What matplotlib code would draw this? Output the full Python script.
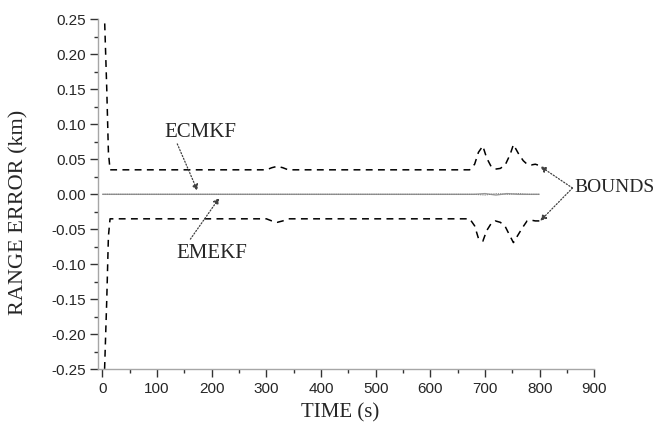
import matplotlib
matplotlib.use("Agg")
import matplotlib.pyplot as plt
from matplotlib.ticker import MultipleLocator, FormatStrFormatter

# ---- data ----
time_bound = [0, 4, 8, 11, 14, 300, 310, 320, 330, 340, 672, 681, 688, 696, 703, 711, 719, 728, 737, 746, 752, 762, 770, 777, 785, 792, 800]
upper_bound = [0.40, 0.25, 0.15, 0.06, 0.035, 0.035, 0.038, 0.040, 0.038, 0.035, 0.035, 0.043, 0.060, 0.069, 0.052, 0.040, 0.036, 0.037, 0.042, 0.057, 0.071, 0.057, 0.048, 0.043, 0.042, 0.043, 0.041]
lower_bound = [-0.40, -0.25, -0.15, -0.06, -0.035, -0.035, -0.038, -0.040, -0.038, -0.035, -0.035, -0.045, -0.063, -0.067, -0.052, -0.042, -0.038, -0.040, -0.046, -0.060, -0.069, -0.056, -0.046, -0.038, -0.037, -0.038, -0.038]

time_err = [0, 100, 200, 300, 400, 500, 600, 680, 700, 720, 740, 760, 780, 800]
ecmkf_err = [0.0, 0.0, 0.0, 0.0, 0.0, 0.0, 0.0, 0.0, 0.001, -0.001, 0.001, 0.0, 0.0, 0.0]
emekf_err = [0.0, 0.0, 0.0, 0.0, 0.0, 0.0, 0.0, 0.0, -0.001, 0.001, 0.0, 0.001, 0.0, 0.0]

x_ticks = [0, 100, 200, 300, 400, 500, 600, 700, 800, 900]
y_ticks = [-0.25, -0.20, -0.15, -0.10, -0.05, 0.00, 0.05, 0.10, 0.15, 0.20, 0.25]

serif = ["Liberation Serif", "DejaVu Serif"]
sans = ["Liberation Sans", "DejaVu Sans"]

fig = plt.figure(figsize=(6.57, 4.29), dpi=100)
ax = fig.add_axes([0.1492, 0.1391, 0.7554, 0.8159])

ax.plot(time_err, ecmkf_err, color="0.6", lw=1.0, solid_capstyle="butt")
ax.plot(time_err, emekf_err, color="0.5", lw=0.8, ls=(0, (1, 1)))
ax.plot(time_bound, upper_bound, color="black", lw=1.1, ls=(0, (4.5, 3.5)))
ax.plot(time_bound, lower_bound, color="black", lw=1.1, ls=(0, (4.5, 3.5)))

ax.set_xlim(-8, 900)
ax.set_ylim(-0.25, 0.25)
ax.set_xticks(x_ticks)
ax.set_yticks(y_ticks)
ax.xaxis.set_minor_locator(MultipleLocator(50))
ax.yaxis.set_minor_locator(MultipleLocator(0.025))
ax.yaxis.set_major_formatter(FormatStrFormatter("%.2f"))

for s in ["top", "right"]:
    ax.spines[s].set_visible(False)
for s in ["left", "bottom"]:
    ax.spines[s].set_color("0.65")
    ax.spines[s].set_linewidth(1.0)

ax.tick_params(which="major", direction="out", length=6, width=1.0, color="0.2", pad=3)
ax.tick_params(which="minor", direction="out", length=3, width=1.0, color="0.2")
for lab in ax.get_xticklabels() + ax.get_yticklabels():
    lab.set_family(sans)
    lab.set_fontsize(11)
    lab.set_color("0.15")

ax.set_xlabel("TIME (s)", family=serif, fontsize=15, color="0.15")
ax.set_ylabel("RANGE ERROR (km)", family=serif, fontsize=16, color="0.15")
ax.xaxis.set_label_coords(0.488, -0.096)
ax.yaxis.set_label_coords(-0.141, 0.449)

arrow = dict(arrowstyle="-|>", color="0.25", lw=0.9, ls=(0, (1, 1.5)), mutation_scale=9, shrinkA=0, shrinkB=0)

ax.annotate("", xy=(174, 0.005), xytext=(137, 0.072), arrowprops=arrow)
ax.text(180, 0.089, "ECMKF", family=serif, fontsize=15, color="0.15", ha="center", va="center")

ax.annotate("", xy=(214, -0.005), xytext=(161, -0.064), arrowprops=arrow)
ax.text(201, -0.084, "EMEKF", family=serif, fontsize=15, color="0.15", ha="center", va="center")

ax.annotate("", xy=(801, 0.040), xytext=(860, 0.009), arrowprops=arrow, annotation_clip=False)
ax.annotate("", xy=(801, -0.038), xytext=(860, 0.009), arrowprops=arrow, annotation_clip=False)
ax.text(863, 0.010, "BOUNDS", family=serif, fontsize=14, color="0.15", ha="left", va="center", clip_on=False)

fig.savefig("out.png", dpi=100)
